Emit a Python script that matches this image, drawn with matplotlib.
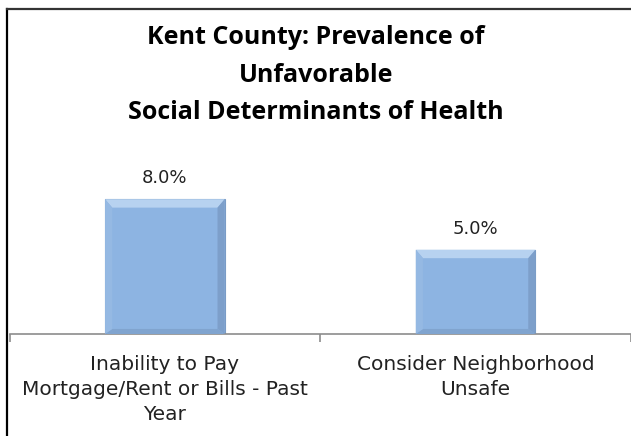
import matplotlib
matplotlib.use("Agg")
import matplotlib.pyplot as plt
from matplotlib.lines import Line2D
from matplotlib.patches import Polygon

categories = ["Inability to Pay\nMortgage/Rent or Bills - Past\nYear",
              "Consider Neighborhood\nUnsafe"]
values = [8.0, 5.0]
labels = ["8.0%", "5.0%"]

TITLE = "Kent County: Prevalence of\nUnfavorable\nSocial Determinants of Health"
BAR = "#8db4e2"
W, H = 631, 436
PX_PER_UNIT = 16.85  # bar scale

fig = plt.figure(figsize=(W / 100, H / 100), dpi=100)
# axes: bottom at y=334px, top at y=160px, left at x=9.5px, runs off the right edge
ax = fig.add_axes([9.5 / W, (H - 334) / H, (W - 9.5) / W, (334 - 160) / H])

x = list(range(len(values)))
bars = ax.bar(x, values, width=0.385, color=BAR, edgecolor="#7a9cc6", linewidth=0.8, zorder=2)

# simple bevel: light top strip, darker bottom/side strips
for b in bars:
    x0, y0, w, h = b.get_x(), b.get_y(), b.get_width(), b.get_height()
    dx, dy = w * 0.06, 0.5
    ax.add_patch(Polygon([(x0, y0 + h), (x0 + w, y0 + h), (x0 + w - dx, y0 + h - dy), (x0 + dx, y0 + h - dy)],
                         closed=True, color="#b7d2f0", lw=0, zorder=3))
    ax.add_patch(Polygon([(x0, y0), (x0 + w, y0), (x0 + w - dx, y0 + dy * 0.6), (x0 + dx, y0 + dy * 0.6)],
                         closed=True, color="#80a4cf", lw=0, zorder=3))
    ax.add_patch(Polygon([(x0 + w, y0), (x0 + w, y0 + h), (x0 + w - dx, y0 + h - dy), (x0 + w - dx, y0 + dy * 0.6)],
                         closed=True, color="#7d9fca", lw=0, zorder=3))
    ax.add_patch(Polygon([(x0, y0), (x0, y0 + h), (x0 + dx, y0 + h - dy), (x0 + dx, y0 + dy * 0.6)],
                         closed=True, color="#95b9e3", lw=0, zorder=3))

for xi, v, t in zip(x, values, labels):
    ax.text(xi, v + 21 / PX_PER_UNIT, t, ha="center", va="center", fontsize=13, color="#222222")

ax.set_xlim(-0.5, -0.5 + (W - 9.5) / 314.5)
ax.set_ylim(0, (334 - 160) / PX_PER_UNIT)
for s in ["top", "right", "left"]:
    ax.spines[s].set_visible(False)
ax.spines["bottom"].set_color("#8c8c8c")
ax.spines["bottom"].set_linewidth(1.2)
ax.set_yticks([])
ax.set_xticks(x)
ax.set_xticklabels(categories, fontsize=14.5, color="#222222", linespacing=1.42)
ax.tick_params(axis="x", which="major", length=0, pad=15)
ax.set_xticks([-0.5, 0.5, 1.5], minor=True)
ax.tick_params(axis="x", which="minor", length=6, width=1.2, color="#8c8c8c")

fig.text(316 / W, 1 - 75 / H, TITLE, ha="center", va="center", fontsize=18,
         weight="bold", family="Open Sans", linespacing=1.65, color="black")

# frame lines (left and top)
fig.add_artist(Line2D([7 / W, 7 / W], [0, 1 - 9 / H], color="black", lw=1.6))
fig.add_artist(Line2D([7 / W, 1], [1 - 9 / H, 1 - 9 / H], color="#333333", lw=1.6))

fig.savefig("out.png", dpi=100)
